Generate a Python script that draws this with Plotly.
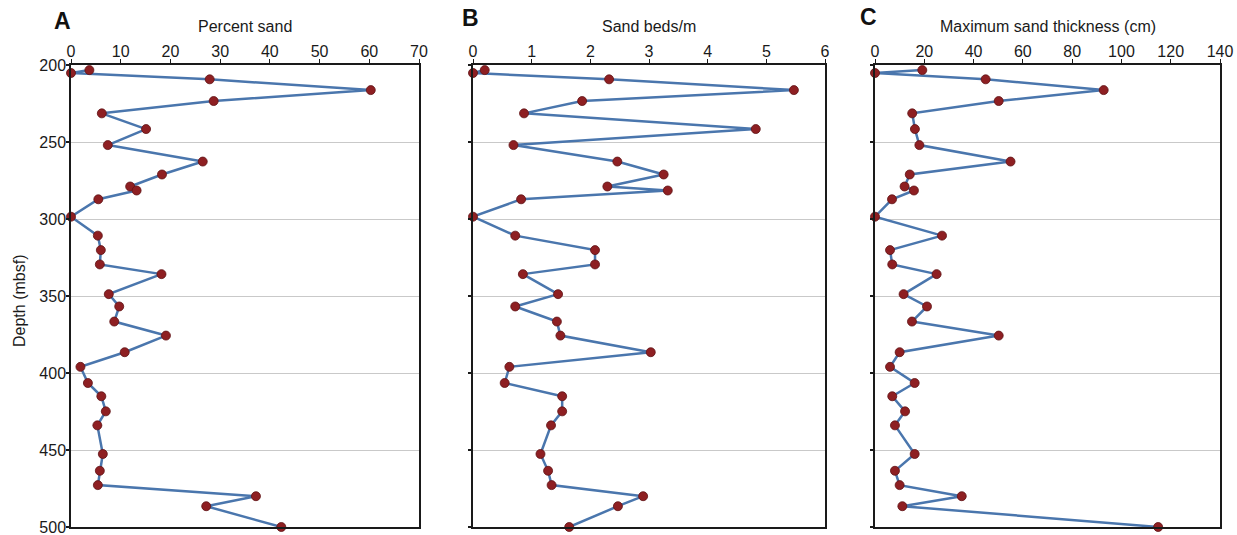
import plotly.graph_objects as go

# Sample depths (mbsf), shared by all three panels
depth = [203.3, 205.2, 209.3, 216.3, 223.4, 231.4, 241.6, 252.0, 262.7, 271.1,
         278.9, 281.5, 287.2, 298.5, 310.8, 320.2, 329.5, 335.8, 348.8, 356.8,
         366.6, 375.7, 386.5, 396.0, 406.5, 415.1, 424.9, 434.0, 452.6, 463.5,
         472.8, 480.0, 486.5, 500.0]

percent_sand = [3.7, 0.0, 27.9, 60.3, 28.7, 6.2, 15.1, 7.4, 26.5, 18.3,
                11.9, 13.2, 5.5, 0.0, 5.4, 6.0, 5.8, 18.2, 7.6, 9.7,
                8.7, 19.1, 10.8, 1.9, 3.4, 6.1, 7.0, 5.3, 6.4, 5.8,
                5.4, 37.2, 27.2, 42.3]

sand_beds_per_m = [0.20, 0.0, 2.32, 5.47, 1.86, 0.87, 4.82, 0.69, 2.46, 3.25,
                   2.29, 3.32, 0.82, 0.0, 0.72, 2.08, 2.08, 0.85, 1.45, 0.72,
                   1.43, 1.49, 3.03, 0.62, 0.54, 1.52, 1.52, 1.33, 1.15, 1.28,
                   1.34, 2.90, 2.47, 1.64]

max_thickness_cm = [19.2, 0.0, 44.9, 92.8, 50.2, 15.1, 16.2, 18.0, 55.0, 14.1,
                    12.0, 15.8, 6.9, 0.0, 27.2, 6.1, 7.0, 25.0, 11.6, 21.1,
                    15.0, 50.2, 10.0, 6.1, 16.1, 7.0, 12.2, 8.1, 16.1, 8.1,
                    10.0, 35.2, 11.1, 114.9]

panel_letters = ["A", "B", "C"]
panel_titles = ["Percent sand", "Sand beds/m", "Maximum sand thickness (cm)"]
x_ranges = [[0, 70], [0, 6], [0, 140]]
x_dticks = [10, 1, 20]
y_ticks = [200, 250, 300, 350, 400, 450, 500]
depth_range = [500, 200]

W, H = 1237, 535
# plot-area pixel extents of the three panels
x_px = [(71, 419), (473, 825), (875, 1220)]
y_top_px, y_bot_px = 65, 527
letter_px = [(62, 21), (470, 18), (868, 17)]

LINE = "#4a76ad"
MARK = "#8e1f22"
MARK_EDGE = "#5e1214"
FONT = "Liberation Sans, Arial, sans-serif"
INK = "#1a1a1a"

fig = go.Figure()
series = [percent_sand, sand_beds_per_m, max_thickness_cm]
for i, vals in enumerate(series):
    sfx = "" if i == 0 else str(i + 1)
    fig.add_trace(go.Scatter(
        x=vals, y=depth, mode="lines+markers",
        xaxis="x" + sfx, yaxis="y" + sfx,
        line=dict(color=LINE, width=2.5),
        marker=dict(color=MARK, size=9, line=dict(color=MARK_EDGE, width=0.8)),
        cliponaxis=False, showlegend=False,
    ))

layout = dict(
    width=W, height=H,
    margin=dict(l=0, r=0, t=0, b=0, autoexpand=False),
    paper_bgcolor="white", plot_bgcolor="white",
    font=dict(family=FONT, size=16, color=INK),
    annotations=[],
)

ydom = [1 - y_bot_px / H, 1 - y_top_px / H]
for i in range(3):
    sfx = "" if i == 0 else str(i + 1)
    tsfx = str(i + 4)  # companion axes carrying the outside tick marks
    xdom = [x_px[i][0] / W, x_px[i][1] / W]
    # labelled axes: no tick marks, so labels sit close to the frame
    layout["xaxis" + sfx] = dict(
        domain=xdom, range=x_ranges[i], side="top", anchor="y" + sfx,
        dtick=x_dticks[i], tick0=0, automargin=False,
        showline=True, linecolor=INK, linewidth=1.5, mirror=True,
        ticks="", showgrid=False, zeroline=False,
        tickfont=dict(size=16, family=FONT, color=INK),
    )
    layout["yaxis" + sfx] = dict(
        domain=ydom, range=depth_range, anchor="x" + sfx,
        tickvals=y_ticks, showticklabels=(i == 0), automargin=False,
        ticklabeloverflow="allow",
        showline=True, linecolor=INK, linewidth=1.5, mirror=True,
        ticks="", showgrid=True, gridcolor="#c9c9c9", gridwidth=1,
        zeroline=False,
        tickfont=dict(size=16, family=FONT, color=INK),
    )
    # tick-mark axes overlaid on the same frame
    layout["xaxis" + tsfx] = dict(
        overlaying="x" + sfx, domain=xdom, range=x_ranges[i], side="top",
        anchor="y" + tsfx, dtick=x_dticks[i], tick0=0, automargin=False,
        showline=False, showticklabels=False, showgrid=False, zeroline=False,
        ticks="outside", ticklen=5, tickwidth=1.3, tickcolor=INK,
    )
    layout["yaxis" + tsfx] = dict(
        overlaying="y" + sfx, domain=ydom, range=depth_range,
        anchor="x" + tsfx, tickvals=y_ticks, automargin=False,
        showline=False, showticklabels=False, showgrid=False, zeroline=False,
        ticks="outside", ticklen=4, tickwidth=1.5, tickcolor=INK,
    )
    fig.add_trace(go.Scatter(
        x=[None], y=[None], xaxis="x" + tsfx, yaxis="y" + tsfx,
        mode="markers", showlegend=False, hoverinfo="skip",
    ))
    # axis title above the tick labels
    layout["annotations"].append(dict(
        text=panel_titles[i], xref="paper", yref="paper",
        x=(x_px[i][0] + x_px[i][1]) / 2 / W, y=1 - 26 / H,
        showarrow=False, xanchor="center", yanchor="middle",
        font=dict(size=16, family=FONT, color=INK),
    ))
    # panel letter
    layout["annotations"].append(dict(
        text="<b>" + panel_letters[i] + "</b>", xref="paper", yref="paper",
        x=letter_px[i][0] / W, y=1 - letter_px[i][1] / H,
        showarrow=False, xanchor="center", yanchor="middle",
        font=dict(size=23, family=FONT, color="#111111"),
    ))

layout["annotations"].append(dict(
    text="Depth (mbsf)", xref="paper", yref="paper",
    x=19 / W, y=1 - 301 / H, textangle=-90,
    showarrow=False, xanchor="center", yanchor="middle",
    font=dict(size=16, family=FONT, color=INK),
))

fig.update_layout(**layout)
fig.write_html("out.html")
